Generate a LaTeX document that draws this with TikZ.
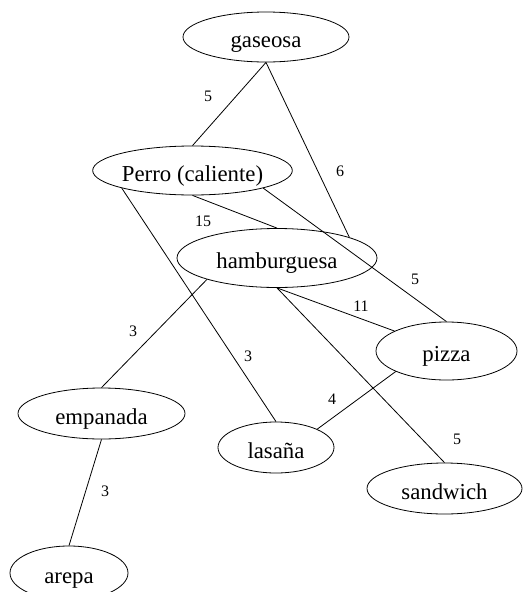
\documentclass[tikz,border=0pt]{standalone}
\usepackage{fontspec}
\setmainfont{Liberation Serif}
\usetikzlibrary{shapes.geometric}
\begin{document}
\begin{tikzpicture}[x=1pt,y=-1pt,
  food/.style={ellipse,draw,line width=0.8pt,inner sep=0pt,
    text height=21pt,text depth=0pt,
    font=\fontsize{22.8}{26}\selectfont},
  wt/.style={font=\fontsize{16}{18}\selectfont,inner sep=0pt},
  edge/.style={line width=0.8pt}]
\useasboundingbox (0,0) rectangle (528,592);
% nodes
\node[food,minimum width=166pt,minimum height=50pt] (gas) at (266,37) {gaseosa};
\node[food,minimum width=199pt,minimum height=49pt] (perro) at (192.5,170.5) {Perro (caliente)};
\node[food,minimum width=200pt,minimum height=59pt] (ham) at (277,258) {hamburguesa};
\node[food,minimum width=141pt,minimum height=58pt] (piz) at (446.5,351) {pizza};
\node[food,minimum width=167pt,minimum height=51pt] (emp) at (101.5,413.5) {empanada};
\node[food,minimum width=116pt,minimum height=51pt] (las) at (276,447.5) {lasaña};
\node[food,minimum width=155pt,minimum height=51pt] (san) at (444.5,488.5) {sandwich};
\node[food,minimum width=118pt,minimum height=54pt] (are) at (69,573) {arepa};
% edges
\draw[edge] (gas.south) -- (perro.north);
\draw[edge] (gas.south) -- (ham.16);
\draw[edge] (perro.south) -- (ham.north);
\draw[edge] (perro.-14) -- (piz.north);
\draw[edge] (perro.-166) -- (las.north);
\draw[edge] (ham.197) -- (emp.north);
\draw[edge] (ham.south) -- (piz.159.5);
\draw[edge] (ham.south) -- (san.north);
\draw[edge] (piz.202) -- (las.24);
\draw[edge] (emp.south) -- (are.north);
% weights
\node[wt] (w1) at (208,96) {5};
\node[wt] (w2) at (340,171) {6};
\node[wt] (w3) at (203,221) {15};
\node[wt] (w4) at (415,279) {5};
\node[wt] (w5) at (248,356) {3};
\node[wt] (w6) at (133,331) {3};
\node[wt] (w7) at (361,306) {11};
\node[wt] (w8) at (457,439) {5};
\node[wt] (w9) at (332,399) {4};
\node[wt] (w10) at (105,491) {3};
\end{tikzpicture}
\end{document}
